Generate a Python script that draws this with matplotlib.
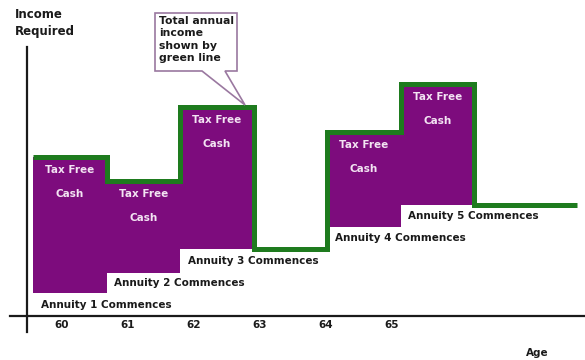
import matplotlib.pyplot as plt
from matplotlib.patches import Polygon

# ages at which an annuity starts, and its yearly amount
annuity_ages = [60, 61, 62, 64, 65]
annuity_amounts = [2.3, 2.0, 2.4, 2.2, 2.2]
# tax free cash taken in the same years
cash_amounts = [13.6, 9.2, 14.2, 9.5, 12.1]
tick_ages = [60, 61, 62, 63, 64, 65]
years = [60, 61, 62, 63, 64, 65, 66]

purple = '#7d0c7d'
green = '#1e7b1e'
dark = '#1a1a1a'

fig = plt.figure(figsize=(5.85, 3.6), dpi=100)
ax = fig.add_axes([0, 0, 1, 1])
ax.set_xlim(60 - 70 / 73.5, 60 + 515 / 73.5)
ax.set_ylim(-4.4, 31.6)
ax.axis('off')

# pixel -> data helper for the decorations
def px(x, y):
    return 60 + (x - 70) / 73.5, (316 - y) / 10

# annuity income built up year by year
base = {}
running = 0
for a in years:
    for age, amt in zip(annuity_ages, annuity_amounts):
        if age == a:
            running += amt
    base[a] = running

cash = dict(zip(annuity_ages, cash_amounts))
totals = [base[a] + cash.get(a, 0) for a in years]

bottoms = [base[a] for a in annuity_ages]
ax.bar(annuity_ages, cash_amounts, width=1.0, bottom=bottoms, color=purple,
       edgecolor='none', zorder=2)

edges = [a - 0.5 for a in years] + [66.9]
ax.stairs(totals, edges, baseline=None, color=green, linewidth=3.6, zorder=3)

for age, c, b in zip(annuity_ages, cash_amounts, bottoms):
    top = b + c
    ax.text(age, top - 1.3, 'Tax Free', ha='center', va='center', color='#f3e4f3',
            fontsize=7.5, fontweight='bold', zorder=4)
    ax.text(age, top - 3.7, 'Cash', ha='center', va='center', color='#f3e4f3',
            fontsize=7.5, fontweight='bold', zorder=4)

for i, (age, amt) in enumerate(zip(annuity_ages, annuity_amounts)):
    mid = base[age] - amt / 2
    ax.text(age - 0.4, mid, f'Annuity {i + 1} Commences', ha='left', va='center',
            color=dark, fontsize=7.5, fontweight='bold', zorder=4)

# axes lines
x0, y0 = px(27, 47)
x1, y1 = px(27, 332)
ax.plot([x0, x1], [y0, y1], color=dark, lw=1.6, zorder=5)
xa, ya = px(10, 316)
xb, yb = px(585, 316)
ax.plot([xa, xb], [ya, yb], color=dark, lw=1.6, zorder=5)

# age labels (their own spacing)
for i, t in enumerate(tick_ages):
    x, y = px(62 + i * 66, 325)
    ax.text(x, y, str(t), ha='center', va='center', color=dark, fontsize=7.5,
            fontweight='bold')

x, y = px(15, 8)
ax.text(x, y, 'Income\nRequired', ha='left', va='top', color=dark, fontsize=8.5,
        fontweight='bold', linespacing=1.45)
x, y = px(537, 353)
ax.text(x, y, 'Age', ha='center', va='center', color=dark, fontsize=7.5,
        fontweight='bold')

# callout
pts = [px(155, 13), px(237, 13), px(237, 71), px(225, 71), px(245, 105),
       px(202, 71), px(155, 71)]
ax.add_patch(Polygon(pts, closed=True, facecolor='white', edgecolor='#9a78a0',
                     lw=1.2, zorder=6))
x, y = px(159, 16)
ax.text(x, y, 'Total annual\nincome\nshown by\ngreen line', ha='left', va='top',
        color=dark, fontsize=7.8, fontweight='bold', linespacing=1.3, zorder=7)

fig.savefig('out.png', dpi=100)
